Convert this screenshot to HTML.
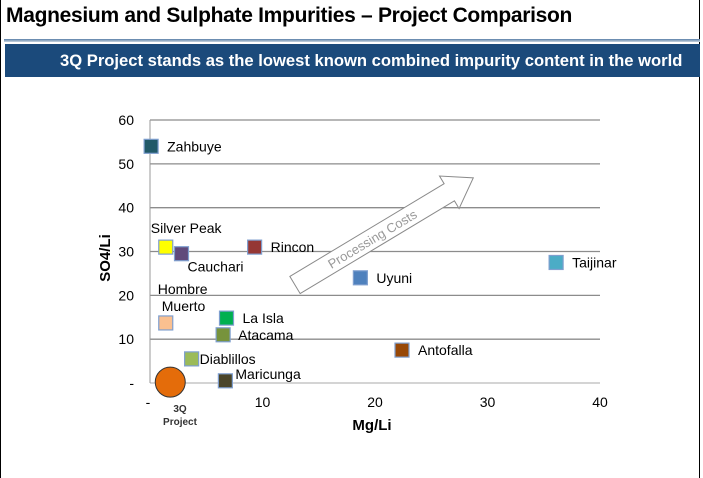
<!DOCTYPE html>
<html><head><meta charset="utf-8"><style>
body{margin:0;width:703px;height:478px;overflow:hidden;background:#fff;font-family:"Liberation Sans",Arial,sans-serif;position:relative}
#frame{position:absolute;left:0;top:0;width:700px;height:478px;border-left:1px solid #000;border-right:1px solid #000;box-sizing:border-box}
#title{position:absolute;left:6px;top:4px;font-size:21px;font-weight:bold;color:#000;letter-spacing:-0.3px}
#sep{position:absolute;left:4px;top:39px;width:696px;height:3px;background:linear-gradient(#5a7fa8,#c8d4e0)}
#banner{position:absolute;left:5px;top:44px;width:695px;height:33px;background:#1b4a7b;color:#fff;font-weight:bold;font-size:16.6px;line-height:33px;box-sizing:border-box;padding-left:55px;white-space:nowrap}
</style></head><body>
<div id="frame"></div>
<div id="title">Magnesium and Sulphate Impurities – Project Comparison</div>
<div id="sep"></div>
<div id="banner">3Q Project stands as the lowest known combined impurity content in the world</div>
<svg id="chart" width="703" height="478" style="position:absolute;left:0;top:0"></svg>
<script>
const names=["Zahbuye","Silver Peak","Cauchari","Rincon","Uyuni","Taijinar","Muerto","La Isla","Atacama","Antofalla","Diablillos","Maricunga"];
const mgLi=[0.1,1.4,2.8,9.3,18.7,36.1,1.4,6.8,6.5,22.4,3.7,6.7];
const so4Li=[54,31,29.5,31,24,27.5,13.7,14.8,11,7.5,5.5,0.5];
const colors=["#215968","#ffff00","#604a7b","#953735","#4f81bd","#4bacc6","#fac090","#00b050","#77933c","#984807","#9bbb59","#4a452a"];
const xTicks=[0,10,20,30,40];const xTickLabels=["-","10","20","30","40"];
const yTicks=[0,10,20,30,40,50,60];const yTickLabels=["-","10","20","30","40","50","60"];
const projMg=1.8, projSo4=0.2;
const X=v=>150+v*11.25, Y=v=>383-v*4.383;
const svg=document.getElementById('chart');const NS="http://www.w3.org/2000/svg";
function mk(t,a,p){const e=document.createElementNS(NS,t);for(const k in a)e.setAttribute(k,a[k]);(p||svg).appendChild(e);return e;}
yTicks.forEach((v,i)=>{if(v>0){const l=mk('line',{x1:150,x2:600,y1:Y(v),y2:Y(v),stroke:'#8c8c8c','stroke-width':1.3});}
const t=mk('text',{x:134,y:Y(v)+5,'text-anchor':'end','font-size':14,fill:'#000'});t.textContent=yTickLabels[i];});
const base=mk('line',{x1:150,x2:600,y1:383,y2:383,stroke:'#bbb','stroke-width':1.3});
const yax=mk('line',{x1:150,x2:150,y1:120,y2:383,stroke:'#999','stroke-width':1});
xTicks.forEach((v,i)=>{const t=mk('text',{x:X(v)-(v==0?2:0),y:407,'text-anchor':'middle','font-size':14,fill:'#000'});t.textContent=xTickLabels[i];});
const xt=mk('text',{x:372,y:430,'text-anchor':'middle','font-size':15,'font-weight':'bold'});xt.textContent='Mg/Li';
const yt=mk('text',{x:0,y:0,'text-anchor':'middle','font-size':15,'font-weight':'bold',transform:'translate(110,258) rotate(-90)'});yt.textContent='SO4/Li';
const g=mk('g',{transform:'translate(295,285) rotate(-31)'});
mk('polygon',{points:'0,-10 180,-10 180,-19 208,0 180,19 180,10 0,10',fill:'#fff',stroke:'#8a8a8a','stroke-width':1},g);
const at=mk('text',{x:90,y:5,'text-anchor':'middle','font-size':13,fill:'#999'},g);at.textContent='Processing Costs';
const labelPos=[[16,5],[-15,-14],[6,18],[16,5],[16,5],[16,5],[-4,-12],[16,5],[15,5],[16,5],[8,5],[10,-2]];
names.forEach((n,i)=>{const cx=X(mgLi[i]),cy=Y(so4Li[i]);
const r=mk('rect',{x:cx-7,y:cy-7,width:14,height:14,fill:colors[i],stroke:'#7f9fcf','stroke-width':1.2});
const lp=labelPos[i];
if(n==='Muerto'){const h=mk('text',{x:cx-8,y:cy-29,'font-size':14});h.textContent='Hombre';}
const t=mk('text',{x:cx+lp[0],y:cy+lp[1],'font-size':14,fill:'#000'});t.textContent=n;});
const c=mk('circle',{cx:X(projMg),cy:Y(projSo4),r:15,fill:'#e46c0a',stroke:'#333','stroke-width':1});
const p1=mk('text',{x:180,y:412,'text-anchor':'middle','font-size':10,'font-weight':'bold',fill:'#333'});p1.textContent='3Q';
const p2=mk('text',{x:180,y:425,'text-anchor':'middle','font-size':10,'font-weight':'bold',fill:'#333'});p2.textContent='Project';
</script>
</body></html>
